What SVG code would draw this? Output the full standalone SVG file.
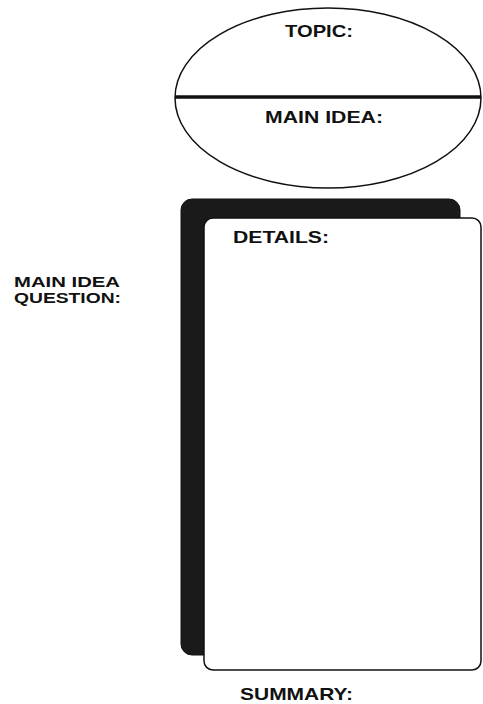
<svg xmlns="http://www.w3.org/2000/svg" width="483" height="704" viewBox="0 0 483 704">
<style>
.lbl{font-family:"Liberation Sans",Arial,sans-serif;font-weight:bold;font-size:17px;fill:#111}
.sm{font-size:14px}
.ln{fill:#fff;stroke:#111;stroke-width:1.5}
</style>
<rect width="483" height="704" fill="#fff"/>
<g id="topic-oval">
<ellipse class="ln" cx="328" cy="98" rx="153" ry="90"/>
<line x1="175" y1="97" x2="481" y2="97" stroke="#111" stroke-width="3.5"/>
<text class="lbl" x="285" y="37" textLength="68" lengthAdjust="spacingAndGlyphs">TOPIC:</text>
<text class="lbl" x="265" y="123" textLength="118" lengthAdjust="spacingAndGlyphs">MAIN IDEA:</text>
</g>
<g id="question">
<text class="lbl sm" x="14" y="287" textLength="106" lengthAdjust="spacingAndGlyphs">MAIN IDEA</text>
<text class="lbl sm" x="14" y="303" textLength="107" lengthAdjust="spacingAndGlyphs">QUESTION:</text>
</g>
<g id="details-card">
<rect x="181" y="199" width="279" height="456" rx="11" style="fill:#1a1a1a;stroke:#111;stroke-width:1"/>
<rect class="ln" x="204" y="218" width="277" height="452" rx="9"/>
<text class="lbl" x="233" y="243" textLength="96" lengthAdjust="spacingAndGlyphs">DETAILS:</text>
</g>
<g id="summary">
<text class="lbl" x="240" y="700" textLength="113" lengthAdjust="spacingAndGlyphs">SUMMARY:</text>
</g>
<g id="connectors"></g>
</svg>
